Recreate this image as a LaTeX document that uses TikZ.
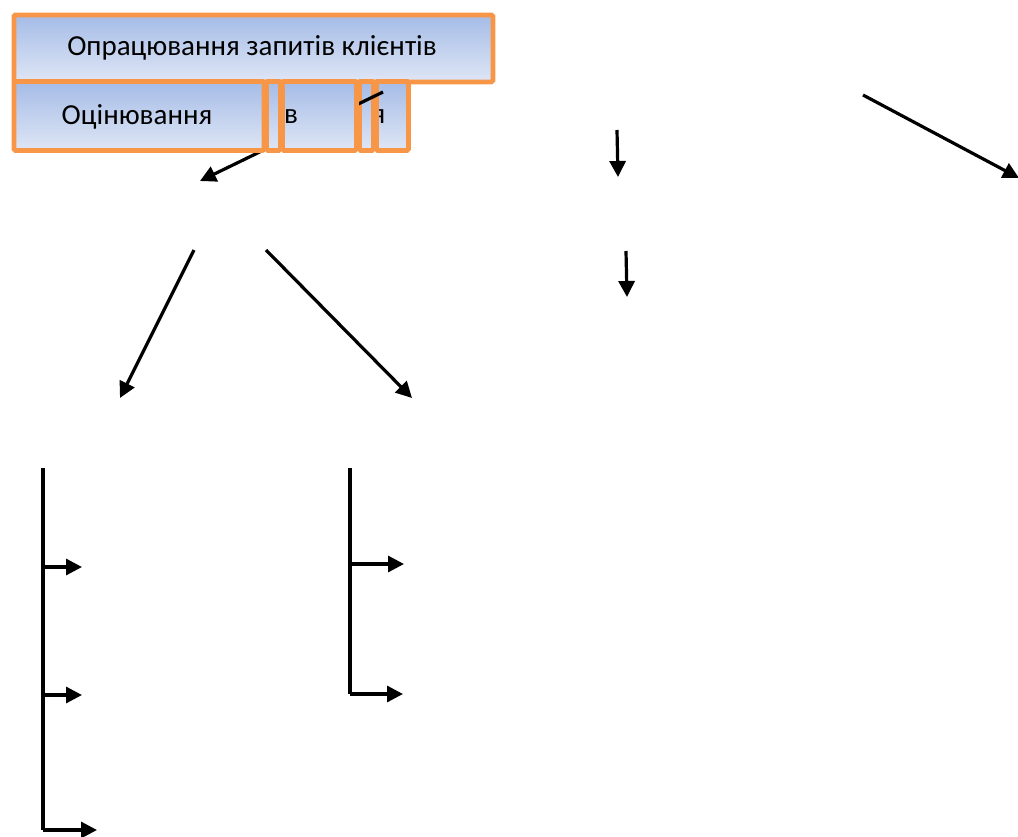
\documentclass[tikz,border=0pt]{standalone}
\usepackage{fontspec}
\setmainfont{Carlito}
\usetikzlibrary{arrows.meta}
\begin{document}
\begin{tikzpicture}[x=1pt,y=-1pt,
  cell/.style={draw=boxorange, line width=4.8pt, rounded corners=1.5pt,
    top color=boxtop, bottom color=boxbot, inner sep=0pt, anchor=north west},
  rim/.style={draw=boxorange, line width=4.8pt, rounded corners=1.5pt, inner sep=0pt, anchor=north west},
  lbl/.style={font=\fontsize{29}{33}\selectfont, inner sep=0pt},
  conn/.style={line width=3.2pt, -{Triangle[length=16pt,width=16pt]}},
  bar/.style={line width=3.2pt}]
\definecolor{boxorange}{HTML}{F79646}
\definecolor{boxtop}{HTML}{A5BCE7}
\definecolor{boxbot}{HTML}{DFE6F5}
\useasboundingbox (0,0) rectangle (1018,836);
% top box
\node[cell, minimum width=479pt, minimum height=67pt] (top) at (11.5,12.5) {};
\node[lbl] (toptxt) at (252,48) {Опрацювання запитів клієнтів};
% second row, right cells
\node[cell, minimum width=14pt, minimum height=69pt] (d) at (357,79) {};
\node[cell, minimum width=32pt, minimum height=69pt] (e) at (374,79) {};
\node[lbl] (etxt) at (378.5,117) {я};
\node[rim, minimum width=14pt, minimum height=69pt] (drim) at (357,79) {};
\node[rim, minimum width=32pt, minimum height=69pt] (erim) at (374,79) {};
% hidden arrow
\coordinate (s0) at (383,92);
\coordinate (t0) at (200,181);
\draw[conn] (s0) -- (t0);
% second row, left cells
\node[cell, minimum width=250pt, minimum height=69pt] (a) at (11.5,79) {};
\node[lbl] (atxt) at (137,117) {Оцінювання};
\node[cell, minimum width=14pt, minimum height=69pt] (b) at (264,79) {};
\node[cell, minimum width=74pt, minimum height=69pt] (c) at (280,79) {};
\node[lbl] (ctxt) at (291,117) {в};
% other arrows
\coordinate (s1) at (863,95);
\coordinate (t1) at (1019,178);
\draw[conn] (s1) -- (t1);
\coordinate (s2) at (617,130);
\coordinate (t2) at (618,177);
\draw[conn] (s2) -- (t2);
\coordinate (s3) at (626,251);
\coordinate (t3) at (627,297);
\draw[conn] (s3) -- (t3);
\coordinate (s4) at (194,250);
\coordinate (t4) at (120,398);
\draw[conn] (s4) -- (t4);
\coordinate (s5) at (266,250);
\coordinate (t5) at (412,398);
\draw[conn] (s5) -- (t5);
% left bracket
\coordinate (l0) at (43,468);
\coordinate (l1) at (43,567);
\coordinate (l2) at (43,695);
\coordinate (l3) at (43,830);
\coordinate (l1e) at (82,567);
\coordinate (l2e) at (82,695);
\coordinate (l3e) at (97,830);
\draw[bar] (l0) -- (l3);
\draw[conn] (l1) -- (l1e);
\draw[conn] (l2) -- (l2e);
\draw[conn] (l3) -- (l3e);
% right bracket
\coordinate (r0) at (350,468);
\coordinate (r1) at (350,564);
\coordinate (r2) at (350,694);
\coordinate (r1e) at (404,564);
\coordinate (r2e) at (403,694);
\draw[bar] (r0) -- (r2);
\draw[conn] (r1) -- (r1e);
\draw[conn] (r2) -- (r2e);
\end{tikzpicture}
\end{document}
